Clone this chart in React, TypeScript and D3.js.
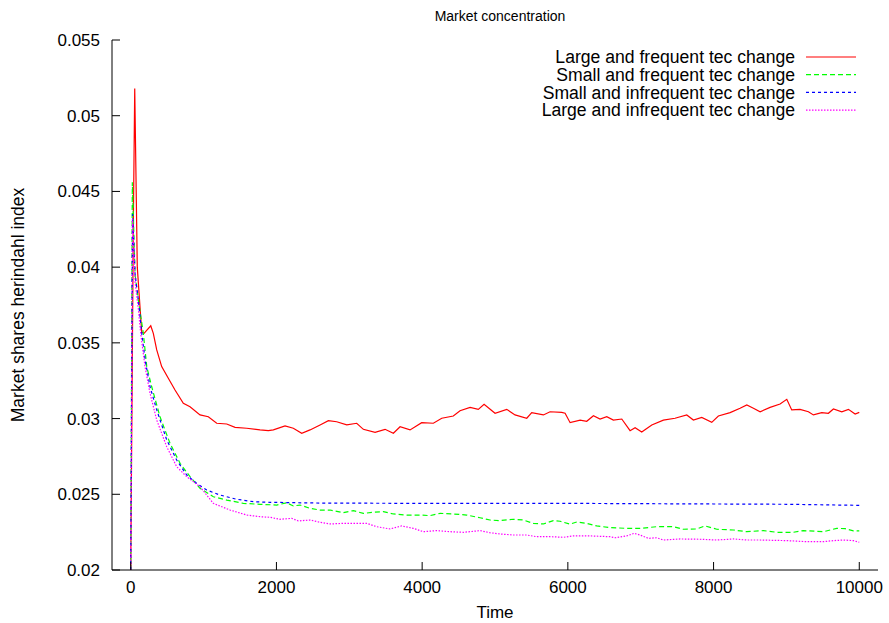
import { line, scaleLinear } from 'd3';
import React from 'react';

// [time, herfindahl] pairs
const largeFrequent: [number, number][] = [
  [0, 0.02], [36, 0.043], [55, 0.0518], [90, 0.04], [151, 0.0357], [183, 0.03563],
  [275, 0.03613], [310, 0.03563], [357, 0.03453], [425, 0.03343], [516, 0.03266],
  [608, 0.03189], [722, 0.03101], [814, 0.03078], [951, 0.03024], [1065, 0.03012],
  [1180, 0.02969], [1318, 0.02964], [1432, 0.02942], [1592, 0.02936], [1775, 0.02925],
  [1889, 0.0292], [1958, 0.02925], [2118, 0.02951], [2232, 0.02936], [2347, 0.02903],
  [2461, 0.02925], [2599, 0.02958], [2713, 0.02986], [2827, 0.02979], [2965, 0.02958],
  [3102, 0.02969], [3193, 0.02929], [3354, 0.02909], [3491, 0.02929], [3605, 0.02903],
  [3697, 0.02946], [3834, 0.02925], [3994, 0.02973], [4154, 0.02969], [4269, 0.03002],
  [4428, 0.03017], [4520, 0.03052], [4658, 0.03074], [4771, 0.03061], [4850, 0.03094],
  [5001, 0.03035], [5161, 0.03061], [5275, 0.03024], [5436, 0.03002], [5504, 0.03039],
  [5664, 0.03024], [5756, 0.03045], [5916, 0.03041], [5962, 0.03035], [6031, 0.02973],
  [6168, 0.0299], [6259, 0.02982], [6351, 0.03019], [6442, 0.02997], [6534, 0.03012],
  [6625, 0.0299], [6740, 0.02997], [6854, 0.0292], [6923, 0.0294], [7014, 0.02911],
  [7152, 0.02958], [7311, 0.0299], [7471, 0.03002], [7632, 0.03024], [7723, 0.0299],
  [7838, 0.03008], [7975, 0.02975], [8066, 0.03017], [8227, 0.03039], [8364, 0.03068],
  [8456, 0.0309], [8547, 0.03068], [8639, 0.03045], [8776, 0.03074], [8913, 0.03096],
  [9005, 0.03127], [9073, 0.03057], [9187, 0.03061], [9302, 0.03045], [9370, 0.03024],
  [9485, 0.03039], [9576, 0.03035], [9645, 0.03063], [9760, 0.03045], [9851, 0.03061],
  [9943, 0.0303], [10000, 0.03041],
];

const smallFrequent: [number, number][] = [
  [0, 0.02], [22, 0.0456], [60, 0.0395], [105, 0.0378], [173, 0.03563], [220, 0.03343],
  [288, 0.0321], [402, 0.03012], [539, 0.02837], [677, 0.02705], [814, 0.02616],
  [951, 0.0254], [1134, 0.02484], [1318, 0.02462], [1546, 0.0244], [1775, 0.02434],
  [2004, 0.02429], [2141, 0.02444], [2232, 0.02423], [2324, 0.02429], [2461, 0.02407],
  [2599, 0.02396], [2736, 0.02396], [2918, 0.02379], [3056, 0.02392], [3193, 0.02374],
  [3330, 0.02381], [3468, 0.02385], [3605, 0.0237], [3788, 0.02363], [3971, 0.02363],
  [4109, 0.02359], [4246, 0.02374], [4428, 0.0237], [4612, 0.02363], [4795, 0.02345],
  [4932, 0.0233], [5069, 0.02326], [5252, 0.02335], [5389, 0.0233], [5527, 0.02308],
  [5664, 0.02304], [5801, 0.02326], [5893, 0.02322], [6031, 0.02303], [6122, 0.02317],
  [6259, 0.02308], [6396, 0.02291], [6579, 0.0228], [6808, 0.02275], [6991, 0.02275],
  [7220, 0.02286], [7448, 0.02286], [7585, 0.02269], [7769, 0.02271], [7883, 0.02291],
  [8044, 0.02269], [8272, 0.02264], [8456, 0.02253], [8684, 0.0226], [8867, 0.02249],
  [9096, 0.02249], [9233, 0.0226], [9508, 0.02253], [9691, 0.02275], [9805, 0.02273],
  [9920, 0.02258], [10000, 0.02258],
];

const smallInfrequent: [number, number][] = [
  [0, 0.02], [25, 0.0435], [60, 0.0395], [105, 0.0378], [151, 0.03563], [200, 0.0338],
  [265, 0.0321], [357, 0.03057], [494, 0.02859], [631, 0.02726], [769, 0.02627],
  [906, 0.02572], [1043, 0.02528], [1226, 0.02495], [1455, 0.02467], [1683, 0.02451],
  [1912, 0.02447], [2599, 0.02442], [4000, 0.0244], [5000, 0.0244], [6000, 0.0244],
  [8000, 0.02436], [9000, 0.02434], [10000, 0.02427],
];

const largeInfrequent: [number, number][] = [
  [0, 0.02], [25, 0.0432], [60, 0.039], [105, 0.0372], [137, 0.03563], [196, 0.03343],
  [265, 0.03167], [357, 0.0299], [494, 0.02814], [631, 0.02682], [769, 0.02616],
  [951, 0.0255], [1134, 0.0244], [1363, 0.02396], [1592, 0.02363], [1775, 0.02352],
  [1912, 0.02348], [2049, 0.02335], [2210, 0.02341], [2301, 0.02324], [2461, 0.0233],
  [2599, 0.02315], [2736, 0.02304], [2918, 0.02308], [3239, 0.02308], [3377, 0.02286],
  [3560, 0.02271], [3720, 0.02291], [3879, 0.02275], [4017, 0.02253], [4200, 0.0226],
  [4383, 0.02253], [4566, 0.02249], [4795, 0.0226], [4932, 0.02246], [5069, 0.02238],
  [5252, 0.02231], [5436, 0.02231], [5573, 0.0222], [5756, 0.0222], [5939, 0.02216],
  [6076, 0.02225], [6305, 0.02225], [6579, 0.0222], [6648, 0.02213], [6808, 0.02225],
  [6909, 0.02242], [6991, 0.02231], [7105, 0.02209], [7220, 0.02213], [7311, 0.02198],
  [7540, 0.02205], [7815, 0.02203], [8044, 0.02198], [8272, 0.02205], [8456, 0.02198],
  [8639, 0.02198], [9005, 0.02194], [9279, 0.02187], [9508, 0.02187], [9645, 0.02194],
  [9782, 0.02198], [9920, 0.02194], [10000, 0.02183],
];

const seriesNames = [
  'Large and frequent tec change',
  'Small and frequent tec change',
  'Small and infrequent tec change',
  'Large and infrequent tec change',
];

const xTicks = [0, 2000, 4000, 6000, 8000, 10000];
const yTicks = [0.02, 0.025, 0.03, 0.035, 0.04, 0.045, 0.05, 0.055];
const yTickLabels = ['0.02', '0.025', '0.03', '0.035', '0.04', '0.045', '0.05', '0.055'];

const W = 889;
const H = 623;
const FONT = '"Liberation Sans", Arial, Helvetica, sans-serif';

const App: React.FC = () => {
  const xScale = scaleLinear().domain([-257, 10257]).range([112, 878]);
  const yScale = scaleLinear().domain([0.02, 0.055]).range([570, 40]);

  const path = line<[number, number]>()
    .x((d) => xScale(d[0]))
    .y((d) => yScale(d[1]));

  const series = [
    { name: seriesNames[0], data: largeFrequent, color: '#ff0000', dash: 'none' },
    { name: seriesNames[1], data: smallFrequent, color: '#00ff00', dash: '5,3' },
    { name: seriesNames[2], data: smallInfrequent, color: '#0000ff', dash: '3,3' },
    { name: seriesNames[3], data: largeInfrequent, color: '#ff00ff', dash: '1.5,1.5' },
  ];

  const [x0, x1] = xScale.range();
  const [yBottom, yTop] = yScale.range();

  return (
    <svg
      width={W}
      height={H}
      style={{ position: 'absolute', left: 0, top: 0, background: '#fff' }}
      fontFamily={FONT}
    >
      {/* title */}
      <text x={500} y={21} textAnchor="middle" fontSize={14} fill="#000">
        Market concentration
      </text>

      {/* lines */}
      {series.map((s) => (
        <path
          key={s.name}
          d={path(s.data) || ''}
          fill="none"
          stroke={s.color}
          strokeWidth={1.2}
          strokeDasharray={s.dash}
        />
      ))}

      {/* axes */}
      <line x1={x0} x2={x0} y1={yTop} y2={yBottom} stroke="#000" strokeWidth={1} />
      <line x1={x0} x2={x1} y1={yBottom} y2={yBottom} stroke="#000" strokeWidth={1} />
      {yTicks.map((t, i) => (
        <g key={t}>
          <line x1={x0} x2={x0 + 8} y1={yScale(t)} y2={yScale(t)} stroke="#000" />
          <text
            x={100}
            y={yScale(t)}
            dy="0.35em"
            textAnchor="end"
            fontSize={17}
            fill="#000"
          >
            {yTickLabels[i]}
          </text>
        </g>
      ))}
      {xTicks.map((t) => (
        <g key={t}>
          <line x1={xScale(t)} x2={xScale(t)} y1={yBottom} y2={yBottom - 8} stroke="#000" />
          <text x={xScale(t)} y={593} textAnchor="middle" fontSize={17} fill="#000">
            {t}
          </text>
        </g>
      ))}

      {/* axis labels */}
      <text x={495} y={618} textAnchor="middle" fontSize={17} fill="#000">
        Time
      </text>
      <text
        transform={`translate(24, ${(yTop + yBottom) / 2}) rotate(-90)`}
        textAnchor="middle"
        fontSize={17.5}
        fill="#000"
      >
        Market shares herindahl index
      </text>

      {/* legend */}
      {series.map((s, i) => {
        const ly = 57 + i * 17.7;
        return (
          <g key={s.name}>
            <text x={795} y={ly} dy="0.35em" textAnchor="end" fontSize={17.6} fill="#000">
              {s.name}
            </text>
            <line
              x1={806}
              x2={856}
              y1={ly}
              y2={ly}
              stroke={s.color}
              strokeWidth={1.2}
              strokeDasharray={s.dash}
            />
          </g>
        );
      })}
    </svg>
  );
};

export default App;
